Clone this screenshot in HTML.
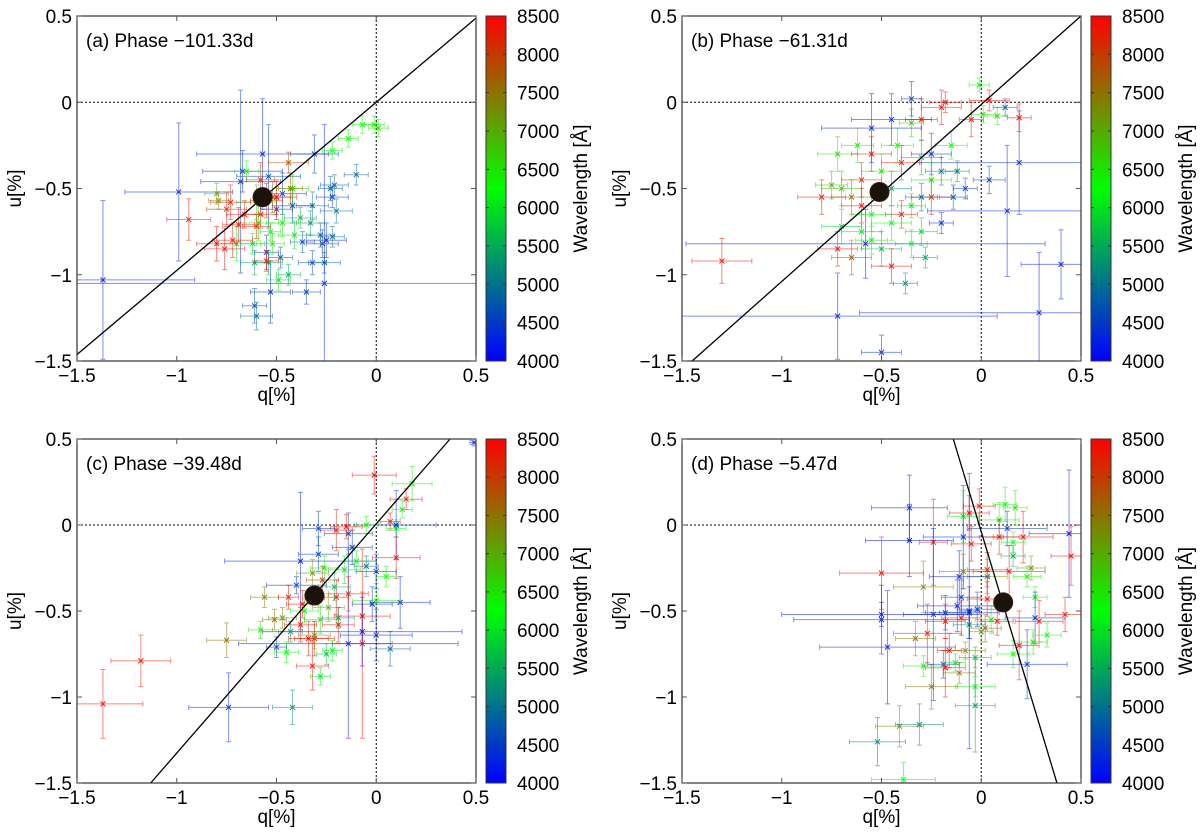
<!DOCTYPE html>
<html><head><meta charset="utf-8"><title>q-u polarization plots</title>
<style>
html,body{margin:0;padding:0;background:#fff;width:1200px;height:834px;overflow:hidden;}
svg{display:block;font-family:"Liberation Sans",sans-serif;}
</style></head>
<body>
<svg id="fig" width="1200" height="834" viewBox="0 0 1200 834" xmlns="http://www.w3.org/2000/svg">
<defs>
<linearGradient id="cmap" x1="0" y1="1" x2="0" y2="0">
<stop offset="0" stop-color="#0000ff"/><stop offset="0.5" stop-color="#00ff00"/><stop offset="1" stop-color="#ff0000"/>
</linearGradient>
</defs>
</svg>
<script>
const xTicks = [-1.5, -1, -0.5, 0, 0.5];
const yTicks = [0.5, 0, -0.5, -1, -1.5];
const cbTicks = [4000, 4500, 5000, 5500, 6000, 6500, 7000, 7500, 8000, 8500];
const panelTitles = ["(a) Phase \u2212101.33d", "(b) Phase \u221261.31d", "(c) Phase \u221239.48d", "(d) Phase \u22125.47d"];
const lineSlopes = [0.975, 1.026, 1.333, -3.85];
const lineIntercepts = [0.0, -0.013, 0.007, -0.039];
const meanQ = [-0.57, -0.51, -0.31, 0.11];
const meanU = [-0.55, -0.52, -0.41, -0.45];

const qA = [-1.37,-0.26,-0.99,-0.68,-0.57,-0.31,-0.54,-0.67,-0.65,-0.1,-0.21,-0.23,-0.22,-0.2,-0.22,-0.25,-0.27,-0.28,-0.32,-0.33,-0.38,-0.37,-0.41,-0.42,-0.47,-0.5,-0.43,-0.44,-0.32,-0.26,-0.35,-0.53,-0.61,-0.6,-0.48,-0.55,-0.54,-0.44,-0.49,-0.61,-0.62,-0.59,-0.7,-0.72,-0.76,-0.8,-0.94,-0.75,-0.73,-0.8,-0.79,-0.69,-0.66,-0.6,-0.58,-0.55,-0.52,-0.58,-0.53,-0.52,-0.55,-0.47,-0.42,-0.22,-0.14,-0.07,-0.01,0.01,-0.5,-0.6];
const uA = [-1.03,-1.05,-0.52,-0.46,-0.3,-0.3,-0.43,-0.4,-0.4,-0.42,-0.48,-0.5,-0.55,-0.63,-0.78,-0.8,-0.82,-0.77,-0.6,-0.7,-0.67,-0.81,-0.77,-0.6,-0.53,-0.62,-0.5,-0.35,-0.93,-0.93,-1.1,-1.1,-1.18,-1.24,-0.9,-0.87,-0.93,-1.0,-1.03,-0.93,-0.82,-0.7,-0.82,-0.8,-0.85,-0.82,-0.68,-0.62,-0.58,-0.53,-0.57,-0.71,-0.65,-0.72,-0.65,-0.57,-0.55,-0.45,-0.75,-0.82,-0.92,-0.7,-0.5,-0.28,-0.21,-0.13,-0.13,-0.15,-0.55,-0.58];
const eqA = [0.46,1.3,0.27,0.2,0.33,0.12,0.16,0.2,0.06,0.06,0.07,0.06,0.08,0.08,0.06,0.1,0.08,0.07,0.08,0.07,0.08,0.06,0.08,0.1,0.12,0.08,0.06,0.1,0.07,0.08,0.07,0.1,0.06,0.08,0.06,0.06,0.07,0.06,0.06,0.07,0.06,0.1,0.1,0.1,0.1,0.1,0.11,0.1,0.1,0.06,0.05,0.08,0.09,0.07,0.08,0.08,0.09,0.07,0.05,0.06,0.06,0.08,0.08,0.05,0.05,0.05,0.05,0.05,0.1,0.1];
const euA = [0.46,0.92,0.4,0.53,0.32,0.11,0.3,0.12,0.06,0.06,0.06,0.07,0.06,0.07,0.06,0.1,0.08,0.07,0.08,0.07,0.06,0.06,0.08,0.1,0.12,0.06,0.09,0.06,0.07,0.06,0.07,0.18,0.1,0.08,0.06,0.1,0.07,0.06,0.06,0.07,0.06,0.1,0.1,0.1,0.12,0.1,0.12,0.1,0.1,0.06,0.05,0.1,0.08,0.07,0.08,0.1,0.09,0.1,0.05,0.06,0.06,0.08,0.08,0.05,0.05,0.05,0.05,0.05,0.1,0.1];
const wlA = [4200,4300,4300,4400,4300,4500,4600,4300,6200,4900,4800,4800,4500,5000,4900,4300,4500,4800,5100,5300,5600,4700,6000,4600,4400,4500,8000,7800,4600,4800,4500,4400,4700,5000,4800,4400,5600,5500,6000,5400,6000,6500,6100,8300,8400,8500,8300,8200,8400,7000,7400,8400,8300,8100,8000,8300,7600,8100,6300,6500,8400,6400,6600,6300,6400,6300,6400,6600,8500,6800];

const qB = [-1.3,-0.72,-0.5,0.29,0.13,0.19,-0.58,0.4,0.04,0.12,0.19,0.04,-0.01,0.01,0.08,-0.05,-0.18,-0.2,-0.3,-0.35,-0.45,-0.55,-0.35,-0.62,-0.72,-0.55,-0.42,-0.4,-0.3,-0.25,-0.2,-0.12,-0.08,-0.14,-0.25,-0.3,-0.35,-0.4,-0.45,-0.55,-0.6,-0.65,-0.8,-0.75,-0.7,-0.6,-0.5,-0.45,-0.6,-0.7,-0.72,-0.65,-0.5,-0.45,-0.35,-0.3,-0.38,-0.28,-0.2,-0.55,-0.25,-0.15];
const uB = [-0.92,-1.24,-1.45,-1.22,-0.63,-0.35,-0.82,-0.94,-0.45,-0.03,-0.09,0.01,0.1,-0.07,-0.08,-0.1,0.0,-0.03,-0.1,-0.12,-0.1,-0.15,0.02,-0.25,-0.3,-0.3,-0.25,-0.35,-0.32,-0.3,-0.4,-0.4,-0.5,-0.55,-0.55,-0.55,-0.6,-0.65,-0.7,-0.65,-0.6,-0.55,-0.55,-0.48,-0.5,-0.45,-0.4,-0.5,-0.75,-0.72,-0.85,-0.9,-0.85,-0.95,-0.82,-0.75,-1.05,-0.9,-0.7,-0.8,-0.45,-0.25];
const eqB = [0.15,0.8,0.1,0.9,0.4,0.5,0.9,0.2,0.08,0.06,0.06,0.1,0.05,0.06,0.05,0.06,0.08,0.1,0.08,0.06,0.2,0.25,0.05,0.08,0.1,0.1,0.08,0.1,0.1,0.1,0.08,0.06,0.06,0.07,0.1,0.08,0.07,0.08,0.1,0.1,0.1,0.1,0.12,0.08,0.1,0.1,0.1,0.1,0.1,0.1,0.1,0.1,0.1,0.1,0.08,0.08,0.06,0.06,0.06,0.08,0.1,0.08];
const euB = [0.13,0.25,0.1,0.35,0.38,0.3,0.2,0.2,0.08,0.05,0.08,0.06,0.04,0.05,0.05,0.1,0.06,0.1,0.12,0.08,0.15,0.2,0.1,0.1,0.1,0.1,0.1,0.1,0.1,0.12,0.08,0.06,0.06,0.07,0.1,0.08,0.07,0.08,0.1,0.1,0.1,0.1,0.1,0.08,0.1,0.1,0.1,0.1,0.1,0.1,0.1,0.1,0.1,0.1,0.08,0.08,0.06,0.06,0.06,0.08,0.1,0.08];
const wlB = [8400,4300,4400,4200,4300,4400,4200,4300,4600,4700,8400,8400,6300,6500,6600,8300,8300,8400,8300,6800,4400,4300,4500,6500,6600,8300,6300,8200,5500,4500,5000,5200,4600,4700,8400,4900,6000,8300,6300,6200,8400,7400,8300,7000,6800,8000,6500,5400,6000,5800,8400,7800,5600,8400,6100,5800,5200,5400,4400,6400,6500,6200];

const qC = [-1.37,-1.18,-0.75,-0.74,-0.42,-0.38,-0.01,0.18,0.15,0.13,0.07,0.1,0.1,0.1,0.05,0.12,0.0,-0.02,0.0,0.07,0.0,-0.07,-0.07,-0.07,-0.14,-0.14,-0.14,-0.12,-0.1,-0.05,-0.05,-0.15,-0.2,-0.29,-0.29,-0.2,-0.19,-0.19,-0.22,-0.25,-0.28,-0.32,-0.31,-0.34,-0.31,-0.38,-0.45,-0.5,-0.58,-0.56,-0.44,-0.4,-0.47,-0.51,-0.43,-0.36,-0.24,-0.27,-0.32,-0.26,-0.21,-0.16,-0.37,-0.28,0.49];
const uC = [-1.04,-0.79,-0.67,-1.06,-1.06,-0.21,0.29,0.24,0.15,0.09,0.02,-0.02,0.0,-0.19,-0.3,-0.45,-0.44,-0.46,-0.64,-0.72,-0.27,-0.53,-0.69,-0.62,-0.69,-0.4,-0.05,-0.13,-0.21,-0.24,0.0,-0.01,-0.03,-0.02,-0.17,-0.42,-0.58,-0.54,-0.73,-0.75,-0.88,-0.82,-0.66,-0.66,-0.64,-0.58,-0.74,-0.71,-0.61,-0.42,-0.42,-0.35,-0.54,-0.55,-0.62,-0.5,-0.48,-0.32,-0.28,-0.25,-0.36,-0.26,-0.46,-0.55,0.48];
const eqC = [0.2,0.15,0.1,0.2,0.1,0.38,0.11,0.1,0.08,0.05,0.05,0.05,0.2,0.12,0.05,0.15,0.12,0.1,0.18,0.1,0.1,0.14,0.15,0.5,0.55,0.1,0.12,0.1,0.06,0.06,0.06,0.08,0.08,0.08,0.1,0.06,0.08,0.08,0.05,0.05,0.05,0.08,0.1,0.1,0.08,0.08,0.06,0.05,0.06,0.07,0.05,0.15,0.07,0.06,0.06,0.07,0.08,0.08,0.08,0.07,0.08,0.08,0.08,0.08,0.02];
const euC = [0.2,0.15,0.1,0.2,0.1,0.4,0.11,0.1,0.06,0.05,0.05,0.05,0.2,0.12,0.06,0.15,0.1,0.1,0.15,0.1,0.1,0.14,0.55,0.2,0.55,0.1,0.12,0.1,0.06,0.06,0.05,0.07,0.12,0.1,0.1,0.1,0.1,0.06,0.06,0.06,0.05,0.14,0.1,0.1,0.08,0.1,0.06,0.06,0.05,0.06,0.07,0.05,0.06,0.06,0.06,0.07,0.08,0.08,0.08,0.07,0.08,0.08,0.08,0.08,0.02];
const wlC = [8400,8300,7500,4300,5200,4200,8400,6400,8400,6300,8400,6200,4400,8400,6300,4300,6500,4400,4300,4900,4500,8300,8400,4200,4200,8300,4500,4400,6200,5000,6400,8400,8300,4500,4500,8400,8300,5400,6100,5700,6000,8400,8200,8400,7300,8300,6200,4600,6500,7400,8300,4400,7200,7600,5300,6300,7000,8100,7200,6400,5600,6000,8400,6600,4400];

const qD = [-0.36,-0.36,-0.24,-0.5,-0.5,-0.47,-0.5,-0.29,-0.33,-0.27,-0.25,-0.41,-0.31,-0.52,-0.39,-0.06,-0.09,-0.01,0.12,0.17,0.13,0.09,-0.09,-0.05,0.09,0.21,0.16,0.16,0.44,0.45,0.14,0.25,0.23,0.03,0.03,-0.11,-0.09,0.27,0.27,0.29,0.42,0.33,0.26,0.19,0.16,0.23,0.0,-0.06,0.05,0.08,-0.02,-0.06,-0.12,-0.1,0.03,-0.24,-0.18,-0.18,-0.1,-0.18,-0.19,-0.29,-0.13,-0.08,-0.11,-0.03,-0.03,-0.03,-0.06,-0.16,0.02];
const uD = [0.1,-0.09,-0.1,-0.28,-0.55,-0.71,-0.52,-0.36,-0.66,-0.63,-0.94,-1.17,-1.16,-1.26,-1.48,0.07,0.05,0.11,0.12,0.1,-0.02,0.03,-0.07,-0.11,-0.07,-0.07,-0.1,-0.18,-0.05,-0.18,-0.27,-0.25,-0.3,-0.26,-0.3,-0.3,-0.27,-0.42,-0.54,-0.56,-0.52,-0.64,-0.68,-0.7,-0.75,-0.81,-0.62,-0.58,-0.55,-0.56,-0.49,-0.51,-0.47,-0.42,-0.43,-0.52,-0.51,-0.56,-0.54,-0.83,-0.81,-0.82,-0.8,-0.73,-0.86,-0.77,-0.94,-1.05,-0.5,-0.73,-0.6];
const eqD = [0.19,0.22,0.07,0.21,0.44,0.34,0.5,0.15,0.1,0.17,0.13,0.12,0.12,0.14,0.16,0.1,0.08,0.08,0.06,0.06,0.2,0.1,0.2,0.1,0.1,0.15,0.06,0.06,0.2,0.1,0.18,0.07,0.07,0.1,0.1,0.15,0.12,0.06,0.15,0.12,0.1,0.07,0.07,0.1,0.08,0.2,0.06,0.08,0.08,0.08,0.1,0.15,0.2,0.1,0.1,0.15,0.1,0.1,0.1,0.1,0.08,0.1,0.05,0.1,0.08,0.08,0.1,0.1,0.05,0.06,0.08];
const euD = [0.19,0.21,0.25,0.21,0.2,0.33,0.07,0.15,0.1,0.17,0.13,0.12,0.12,0.14,0.1,0.1,0.15,0.1,0.1,0.1,0.1,0.1,0.3,0.1,0.1,0.15,0.06,0.06,0.37,0.17,0.15,0.07,0.06,0.1,0.1,0.15,0.1,0.06,0.15,0.12,0.1,0.07,0.07,0.2,0.08,0.2,0.06,0.08,0.08,0.08,0.1,0.15,0.15,0.1,0.1,0.5,0.1,0.1,0.1,0.17,0.08,0.06,0.05,0.05,0.06,0.06,0.06,0.27,0.8,0.1,0.08];
const wlD = [4300,4200,8400,8400,4300,4300,4200,7400,7500,8300,7500,7300,5200,5100,6100,8400,6200,8300,6300,6500,4400,6400,4300,8400,8200,8400,6300,5500,4200,8400,8300,7200,6400,8400,7300,4300,7400,6300,4400,8400,8300,6200,6500,8400,6300,4400,7200,5200,6200,8400,4500,4300,4300,4600,8400,4300,4400,8400,8200,8400,4500,6300,6100,7300,7500,5600,6200,5400,4300,8400,7600];

const panels = [
  {key:"a", left:77, top:16, w:399, h:345, q:qA, u:uA, eq:eqA, eu:euA, wl:wlA},
  {key:"b", left:682, top:16, w:399, h:345, q:qB, u:uB, eq:eqB, eu:euB, wl:wlB},
  {key:"c", left:77, top:439, w:399, h:344, q:qC, u:uC, eq:eqC, eu:euC, wl:wlC},
  {key:"d", left:682, top:439, w:399, h:344, q:qD, u:uD, eq:eqD, eu:euD, wl:wlD}
];

const NS = "http://www.w3.org/2000/svg";
const svg = document.getElementById("fig");
const defs = svg.querySelector("defs");
function mk(tag, attrs, parent){
  const e = document.createElementNS(NS, tag);
  for (const k in attrs) e.setAttribute(k, attrs[k]);
  (parent||svg).appendChild(e);
  return e;
}
function cmap(wl){
  let t = (wl-4000)/4500; t = Math.max(0, Math.min(1, t));
  let r, g, b;
  if (t < 0.5){ r = 0; g = 255*2*t; b = 255*(1-2*t); }
  else { r = 255*(2*t-1); g = 255*(2-2*t); b = 0; }
  return "rgb(" + Math.round(r) + "," + Math.round(g) + "," + Math.round(b) + ")";
}
function fmt(v){ return (v<0 ? "\u2212" : "") + String(Math.abs(v)); }
const cl = (v, a, b) => Math.max(a, Math.min(b, v));

panels.forEach((p, pi) => {
  const X = q => p.left + (q + 1.5) / 2 * p.w;
  const Y = u => p.top + (0.5 - u) / 2 * p.h;
  const g = mk("g", {});
  
  

  const cp = mk("clipPath", {id: "clip" + p.key}, defs);
  mk("rect", {x: p.left, y: p.top, width: p.w, height: p.h}, cp);

  const z1 = mk("line", {x1: p.left, x2: p.left + p.w, y1: Y(0), y2: Y(0), stroke: "#000", "stroke-width": 1, "stroke-dasharray": "2,2"}, g);
  
  
  const z2 = mk("line", {x1: X(0), x2: X(0), y1: p.top, y2: p.top + p.h, stroke: "#000", "stroke-width": 1, "stroke-dasharray": "2,2"}, g);
  
  

  const dg = mk("g", {"clip-path": "url(#clip" + p.key + ")"}, g);
  
  
  const n = Math.min(p.q.length, p.u.length, p.eq.length, p.eu.length, p.wl.length);
  for (let i = 0; i < n; i++){
    const c = cmap(p.wl[i]);
    const cx = X(p.q[i]), cy = Y(p.u[i]);
    const x1 = X(cl(p.q[i] - p.eq[i], -1.52, 0.52)), x2 = X(cl(p.q[i] + p.eq[i], -1.52, 0.52));
    const y1 = Y(cl(p.u[i] + p.eu[i], -1.52, 0.52)), y2 = Y(cl(p.u[i] - p.eu[i], -1.52, 0.52));
    const pg = mk("g", {stroke: c, "stroke-width": 1, "stroke-opacity": 0.5, fill: "none"}, dg);
    
    
    mk("path", {d: "M" + x1 + " " + cy + "H" + x2 + "M" + x1 + " " + (cy-2.5) + "V" + (cy+2.5) + "M" + x2 + " " + (cy-2.5) + "V" + (cy+2.5) +
      "M" + cx + " " + y1 + "V" + y2 + "M" + (cx-2.5) + " " + y1 + "H" + (cx+2.5) + "M" + (cx-2.5) + " " + y2 + "H" + (cx+2.5)}, pg);
    mk("path", {d: "M" + (cx-2.5) + " " + (cy-2.5) + "L" + (cx+2.5) + " " + (cy+2.5) + "M" + (cx-2.5) + " " + (cy+2.5) + "L" + (cx+2.5) + " " + (cy-2.5), "stroke-opacity": 0.9}, pg);
  }

  // fitted line clipped analytically to the plot box
  const m = lineSlopes[pi], b = lineIntercepts[pi];
  let qa = -1.5, qb = 0.5;
  const qAtU = u => (u - b) / m;
  const qlo = Math.min(qAtU(-1.5), qAtU(0.5)), qhi = Math.max(qAtU(-1.5), qAtU(0.5));
  qa = Math.max(qa, qlo); qb = Math.min(qb, qhi);
  const fl = mk("line", {x1: X(qa), y1: Y(m*qa + b), x2: X(qb), y2: Y(m*qb + b), stroke: "#000", "stroke-width": 1.3}, g);
  
  

  const mc = mk("circle", {cx: X(meanQ[pi]), cy: Y(meanU[pi]), r: 9.5, fill: "#1c120c", stroke: "#3a1a10", "stroke-width": 1}, g);
  
  

  const fr = mk("rect", {x: p.left, y: p.top, width: p.w, height: p.h, fill: "none", stroke: "#333", "stroke-width": 1.2}, g);
  
  

  xTicks.forEach(t => {
    const x = X(t);
    mk("line", {x1: x, x2: x, y1: p.top + p.h, y2: p.top + p.h - 5, stroke: "#555"}, g);
    mk("line", {x1: x, x2: x, y1: p.top, y2: p.top + 5, stroke: "#555"}, g);
    const tl = mk("text", {x: x, y: p.top + p.h + 21, "font-size": 19, "text-anchor": "middle", fill: "#000"}, g);
    tl.textContent = fmt(t);
    
    
  });
  yTicks.forEach(t => {
    const y = Y(t);
    mk("line", {x1: p.left, x2: p.left + 5, y1: y, y2: y, stroke: "#555"}, g);
    mk("line", {x1: p.left + p.w, x2: p.left + p.w - 5, y1: y, y2: y, stroke: "#555"}, g);
    const tl = mk("text", {x: p.left - 5, y: y + 7, "font-size": 19, "text-anchor": "end", fill: "#000"}, g);
    tl.textContent = fmt(t);
    
    
  });

  const xt = mk("text", {x: p.left + p.w/2, y: p.top + p.h + 40, "font-size": 19, "text-anchor": "middle"}, g);
  xt.textContent = "q[%]";
  
  
  const yx = p.left - 56, yy = p.top + p.h/2;
  const yt = mk("text", {x: yx, y: yy, "font-size": 19, "text-anchor": "middle", transform: "rotate(-90 " + yx + " " + yy + ")"}, g);
  yt.textContent = "u[%]";
  
  

  const pt = mk("text", {x: p.left + 9, y: p.top + 31, "font-size": 19}, g);
  pt.textContent = panelTitles[pi];
  
  

  const cbx = p.left + p.w + 10, cbw = 20;
  const cb = mk("rect", {x: cbx, y: p.top, width: cbw, height: p.h, fill: "url(#cmap)", stroke: "#333", "stroke-width": 1}, g);
  
  
  const CY = w => p.top + p.h - (w - 4000) / 4500 * p.h;
  cbTicks.forEach(w => {
    const y = CY(w);
    mk("line", {x1: cbx, x2: cbx + 3, y1: y, y2: y, stroke: "#333"}, g);
    mk("line", {x1: cbx + cbw, x2: cbx + cbw - 3, y1: y, y2: y, stroke: "#333"}, g);
    const ct = mk("text", {x: cbx + 31, y: y + 7, "font-size": 19}, g);
    ct.textContent = String(w);
    
    
  });
  const wx = cbx + 101, wy = p.top + p.h/2;
  const wt = mk("text", {x: wx, y: wy, "font-size": 19, "text-anchor": "middle", transform: "rotate(-90 " + wx + " " + wy + ")"}, g);
  wt.textContent = "Wavelength [\u00C5]";
  
  
});
</script>
</body></html>
